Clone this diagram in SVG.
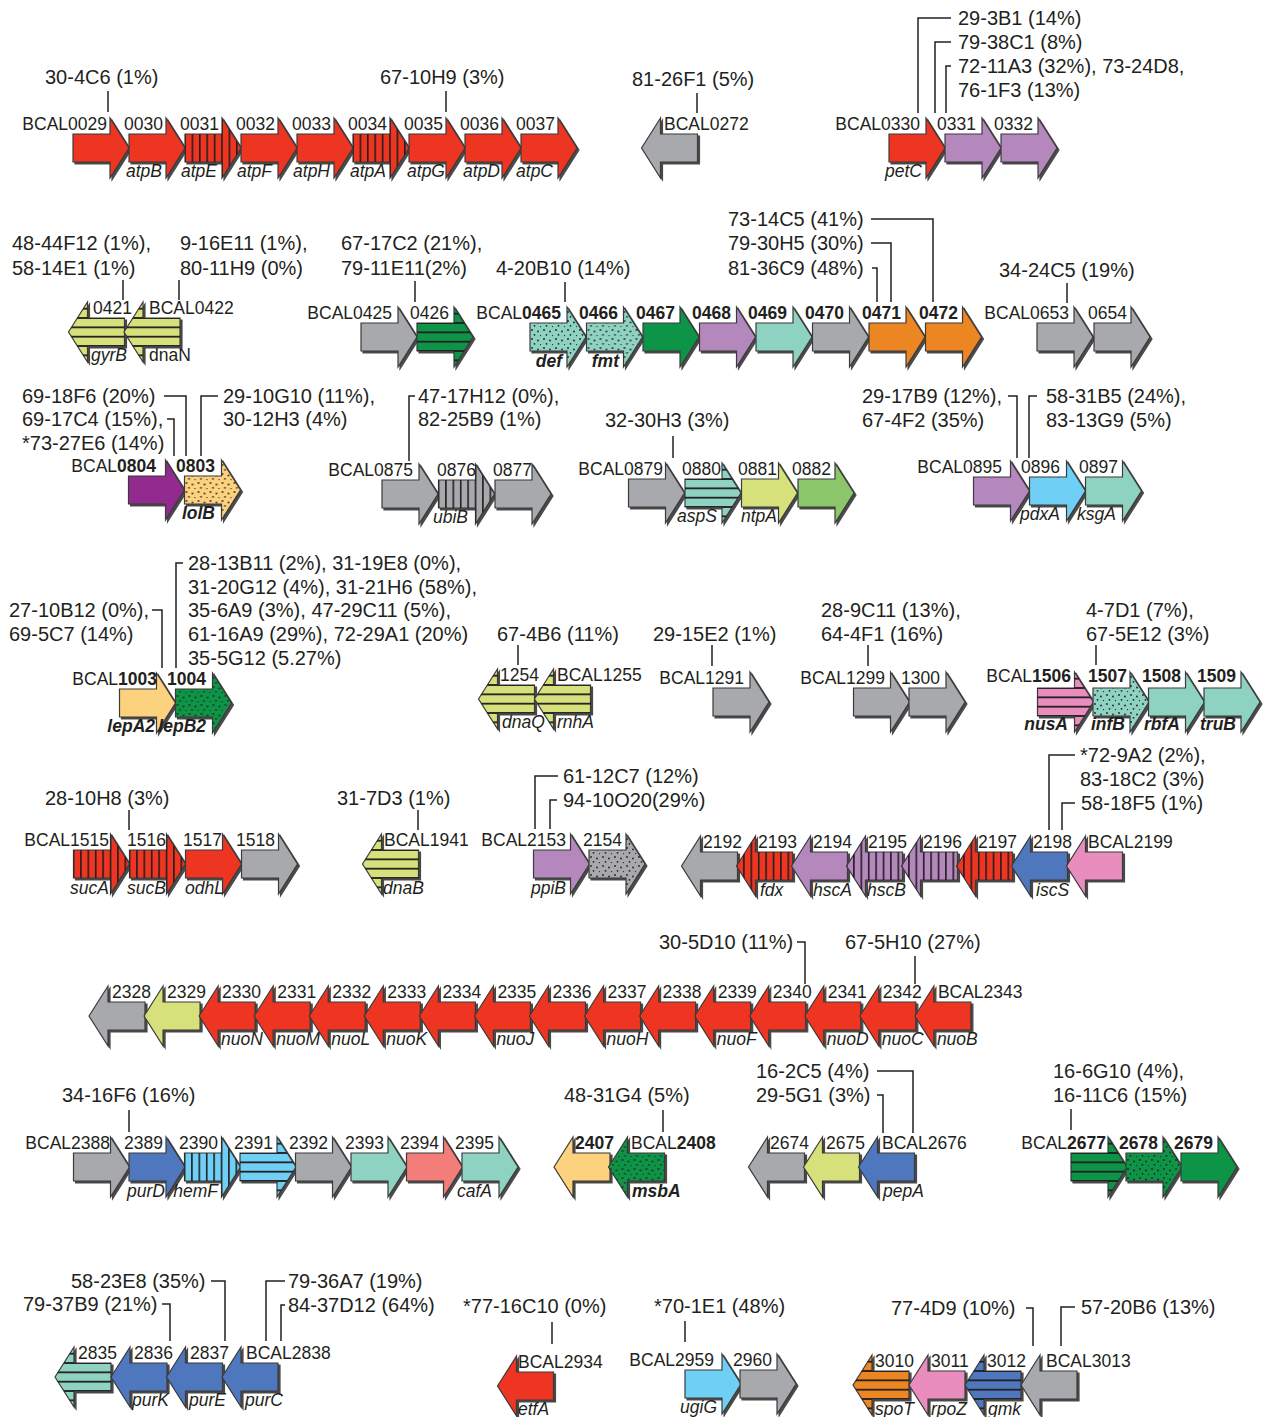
<svg xmlns="http://www.w3.org/2000/svg" xmlns:xlink="http://www.w3.org/1999/xlink" width="1268" height="1417" viewBox="0 0 1268 1417">
<style>
text{font-family:"Liberation Sans",Arial,Helvetica,sans-serif;fill:#231f20}
.a{font-size:20px}
.l{font-size:17.5px}
.gi{font-size:17.5px;font-style:italic}
.gu{font-size:17.5px}
.bd{font-weight:bold}
.e{text-anchor:end}
.ar{stroke:#3a3a3a;stroke-width:1.2;filter:url(#ds)}
.r{fill:#EE3524}.g{fill:#A7A9AC}.p{fill:#B487BD}.y{fill:#D7E17B}.dg{fill:#109447}.t{fill:#8ED2C1}
.o{fill:#EC8623}.dp{fill:#922A8F}.pe{fill:#FDD27E}.lb{fill:#6FCFF5}.lg{fill:#8CC66B}.b{fill:#5077BD}
.pk{fill:#E98DBE}.s{fill:#F37D78}
#connectors line,#connectors polyline{stroke:#231f20;stroke-width:1.5;fill:none}
</style>
<defs>
<filter id="ds" x="-10%" y="-10%" width="130%" height="130%">
<feFlood flood-color="#4a4a4a"/><feComposite in2="SourceAlpha" operator="in"/><feOffset dx="1.6" dy="1.6" result="s"/>
<feMerge><feMergeNode in="s"/><feMergeNode in="SourceGraphic"/></feMerge>
</filter>
<path id="fw" d="M0,-14H37V-30L56,0L37,30V14H0Z"/>
<path id="rv" d="M0,0L19,-30V-14H56V14H19V30Z"/>
<pattern id="vs" patternUnits="userSpaceOnUse" x="-0.8" y="-40" width="7.4" height="80"><rect width="1.6" height="80" fill="#231f20"/></pattern>
<pattern id="hs" patternUnits="userSpaceOnUse" x="-10" y="-14.9" width="80" height="9.333"><rect width="80" height="1.8" fill="#231f20"/></pattern>
<pattern id="dt" patternUnits="userSpaceOnUse" width="12" height="9"><g fill="#231f20"><circle cx="2" cy="2" r="0.9"/><circle cx="8" cy="3.5" r="0.9"/><circle cx="4.5" cy="6.8" r="0.9"/><circle cx="10.5" cy="7.6" r="0.7"/></g></pattern>
</defs>
<rect width="1268" height="1417" fill="#fff"/>

<g id="connectors">
<line x1="108" y1="91" x2="108" y2="112"/>
<line x1="446" y1="91" x2="446" y2="112"/>
<line x1="697" y1="93" x2="697" y2="113"/>
<polyline points="951,18 918,18 918,113"/>
<polyline points="951,42 935,42 935,113"/>
<polyline points="951,66 946,66 946,113"/>
<line x1="123" y1="280" x2="123" y2="300"/>
<line x1="179" y1="280" x2="179" y2="300"/>
<line x1="415" y1="281" x2="415" y2="302"/>
<line x1="565" y1="282" x2="565" y2="302"/>
<polyline points="871,219 933,219 933,302"/>
<polyline points="871,243 891,243 891,302"/>
<polyline points="872,268 877,268 877,302"/>
<line x1="1067" y1="283" x2="1067" y2="303"/>
<polyline points="164,396 186,396 186,456"/>
<polyline points="167,419 174,419 174,456"/>
<polyline points="218,396 201,396 201,456"/>
<polyline points="415,396 409,396 409,461"/>
<line x1="673" y1="436" x2="673" y2="458"/>
<polyline points="1008,396 1017,396 1017,458"/>
<polyline points="1037,396 1029,396 1029,458"/>
<polyline points="152,610 162,610 162,668"/>
<polyline points="183,563 176,563 176,668"/>
<line x1="518" y1="645" x2="518" y2="665"/>
<line x1="712" y1="645" x2="712" y2="666"/>
<line x1="868" y1="645" x2="868" y2="666"/>
<line x1="1096" y1="645" x2="1096" y2="665"/>
<line x1="129" y1="810" x2="129" y2="830"/>
<line x1="418" y1="810" x2="418" y2="830"/>
<polyline points="558,776 535,776 535,829"/>
<polyline points="557,800 550,800 550,829"/>
<polyline points="1075,755 1049,755 1049,830"/>
<polyline points="1075,803 1062,803 1062,830"/>
<polyline points="797,942 805,942 805,984"/>
<line x1="915" y1="956" x2="915" y2="984"/>
<line x1="129" y1="1110" x2="129" y2="1132"/>
<line x1="663" y1="1110" x2="663" y2="1132"/>
<polyline points="877,1071 913,1071 913,1133"/>
<polyline points="877,1095 883,1095 883,1133"/>
<line x1="1071" y1="1109" x2="1071" y2="1130"/>
<polyline points="211,1281 225,1281 225,1341"/>
<polyline points="162,1304 170,1304 170,1341"/>
<polyline points="285,1281 266,1281 266,1341"/>
<polyline points="285,1305 281,1305 281,1341"/>
<line x1="552" y1="1322" x2="552" y2="1344"/>
<line x1="685" y1="1321" x2="685" y2="1342"/>
<polyline points="1026,1308 1033,1308 1033,1346"/>
<polyline points="1075,1307 1061,1307 1061,1346"/>
</g>

<g id="annotations" class="a">
<text class="a" x="45" y="84">30-4C6 (1%)</text>
<text class="a" x="380" y="84">67-10H9 (3%)</text>
<text class="a" x="632" y="86">81-26F1 (5%)</text>
<text class="a" x="958" y="25">29-3B1 (14%)</text>
<text class="a" x="958" y="49">79-38C1 (8%)</text>
<text class="a" x="958" y="73">72-11A3 (32%), 73-24D8,</text>
<text class="a" x="958" y="97">76-1F3 (13%)</text>
<text class="a" x="12" y="250">48-44F12 (1%),</text>
<text class="a" x="12" y="275">58-14E1 (1%)</text>
<text class="a" x="180" y="250">9-16E11 (1%),</text>
<text class="a" x="180" y="275">80-11H9 (0%)</text>
<text class="a" x="341" y="250">67-17C2 (21%),</text>
<text class="a" x="341" y="275">79-11E11(2%)</text>
<text class="a" x="496" y="275">4-20B10 (14%)</text>
<text class="a" x="728" y="226">73-14C5 (41%)</text>
<text class="a" x="728" y="250">79-30H5 (30%)</text>
<text class="a" x="728" y="275">81-36C9 (48%)</text>
<text class="a" x="999" y="277">34-24C5 (19%)</text>
<text class="a" x="22" y="403">69-18F6 (20%)</text>
<text class="a" x="22" y="426">69-17C4 (15%),</text>
<text class="a" x="22" y="450">*73-27E6 (14%)</text>
<text class="a" x="223" y="403">29-10G10 (11%),</text>
<text class="a" x="223" y="426">30-12H3 (4%)</text>
<text class="a" x="418" y="403">47-17H12 (0%),</text>
<text class="a" x="418" y="426">82-25B9 (1%)</text>
<text class="a" x="605" y="427">32-30H3 (3%)</text>
<text class="a" x="862" y="403">29-17B9 (12%),</text>
<text class="a" x="862" y="427">67-4F2 (35%)</text>
<text class="a" x="1046" y="403">58-31B5 (24%),</text>
<text class="a" x="1046" y="427">83-13G9 (5%)</text>
<text class="a" x="9" y="617">27-10B12 (0%),</text>
<text class="a" x="9" y="641">69-5C7 (14%)</text>
<text class="a" x="188" y="570">28-13B11 (2%), 31-19E8 (0%),</text>
<text class="a" x="188" y="594">31-20G12 (4%), 31-21H6 (58%),</text>
<text class="a" x="188" y="617">35-6A9 (3%), 47-29C11 (5%),</text>
<text class="a" x="188" y="641">61-16A9 (29%), 72-29A1 (20%)</text>
<text class="a" x="188" y="665">35-5G12 (5.27%)</text>
<text class="a" x="497" y="641">67-4B6 (11%)</text>
<text class="a" x="653" y="641">29-15E2 (1%)</text>
<text class="a" x="821" y="617">28-9C11 (13%),</text>
<text class="a" x="821" y="641">64-4F1 (16%)</text>
<text class="a" x="1086" y="617">4-7D1 (7%),</text>
<text class="a" x="1086" y="641">67-5E12 (3%)</text>
<text class="a" x="45" y="805">28-10H8 (3%)</text>
<text class="a" x="337" y="805">31-7D3 (1%)</text>
<text class="a" x="563" y="783">61-12C7 (12%)</text>
<text class="a" x="563" y="807">94-10O20(29%)</text>
<text class="a" x="1080" y="762">*72-9A2 (2%),</text>
<text class="a" x="1080" y="786">83-18C2 (3%)</text>
<text class="a" x="1081" y="810">58-18F5 (1%)</text>
<text class="a" x="659" y="949">30-5D10 (11%)</text>
<text class="a" x="845" y="949">67-5H10 (27%)</text>
<text class="a" x="62" y="1102">34-16F6 (16%)</text>
<text class="a" x="564" y="1102">48-31G4 (5%)</text>
<text class="a" x="756" y="1078">16-2C5 (4%)</text>
<text class="a" x="756" y="1102">29-5G1 (3%)</text>
<text class="a" x="1053" y="1078">16-6G10 (4%),</text>
<text class="a" x="1053" y="1102">16-11C6 (15%)</text>
<text class="a" x="71" y="1288">58-23E8 (35%)</text>
<text class="a" x="23" y="1311">79-37B9 (21%)</text>
<text class="a" x="288" y="1288">79-36A7 (19%)</text>
<text class="a" x="288" y="1312">84-37D12 (64%)</text>
<text class="a" x="463" y="1313">*77-16C10 (0%)</text>
<text class="a" x="654" y="1313">*70-1E1 (48%)</text>
<text class="a" x="891" y="1315">77-4D9 (10%)</text>
<text class="a" x="1081" y="1314">57-20B6 (13%)</text>
</g>

<!-- Row 1 -->
<g id="BCAL0029"><use href="#fw" x="73" y="148" class="ar r"/><text class="l e" x="107" y="130">BCAL0029</text></g>
<g id="BCAL0030"><use href="#fw" x="129" y="148" class="ar r"/><text class="l e" x="163" y="130">0030</text><text class="gi e" x="162" y="177">atpB</text></g>
<g id="BCAL0031"><use href="#fw" x="185" y="148" class="ar r"/><use href="#fw" x="185" y="148" fill="url(#vs)"/><text class="l e" x="219" y="130">0031</text><text class="gi e" x="217" y="177">atpE</text></g>
<g id="BCAL0032"><use href="#fw" x="241" y="148" class="ar r"/><text class="l e" x="275" y="130">0032</text><text class="gi e" x="272" y="177">atpF</text></g>
<g id="BCAL0033"><use href="#fw" x="297" y="148" class="ar r"/><text class="l e" x="331" y="130">0033</text><text class="gi e" x="330" y="177">atpH</text></g>
<g id="BCAL0034"><use href="#fw" x="353" y="148" class="ar r"/><use href="#fw" x="353" y="148" fill="url(#vs)"/><text class="l e" x="387" y="130">0034</text><text class="gi e" x="386" y="177">atpA</text></g>
<g id="BCAL0035"><use href="#fw" x="409" y="148" class="ar r"/><text class="l e" x="443" y="130">0035</text><text class="gi e" x="445" y="177">atpG</text></g>
<g id="BCAL0036"><use href="#fw" x="465" y="148" class="ar r"/><text class="l e" x="499" y="130">0036</text><text class="gi e" x="500" y="177">atpD</text></g>
<g id="BCAL0037"><use href="#fw" x="521" y="148" class="ar r"/><text class="l e" x="555" y="130">0037</text><text class="gi e" x="553" y="177">atpC</text></g>
<g id="BCAL0272"><use href="#rv" x="641.5" y="148" class="ar g"/><text class="l" x="664" y="130">BCAL0272</text></g>
<g id="BCAL0330"><use href="#fw" x="889" y="148" class="ar r"/><text class="l e" x="920" y="130">BCAL0330</text><text class="gi e" x="922" y="177">petC</text></g>
<g id="BCAL0331"><use href="#fw" x="945" y="148" class="ar p"/><text class="l e" x="976" y="130">0331</text></g>
<g id="BCAL0332"><use href="#fw" x="1001" y="148" class="ar p"/><text class="l e" x="1033" y="130">0332</text></g>

<!-- Row 2 -->
<g id="BCAL0421"><use href="#rv" x="68.5" y="332" class="ar y"/><use href="#rv" x="68.5" y="332" fill="url(#hs)"/><text class="l" x="93" y="314">0421</text><text class="gi" x="91" y="361">gyrB</text></g>
<g id="BCAL0422"><use href="#rv" x="124" y="332" class="ar y"/><use href="#rv" x="124" y="332" fill="url(#hs)"/><text class="l" x="149" y="314">BCAL0422</text><text class="gu" x="149" y="361">dnaN</text></g>
<g id="BCAL0425"><use href="#fw" x="361" y="337" class="ar g"/><text class="l e" x="392" y="319">BCAL0425</text></g>
<g id="BCAL0426"><use href="#fw" x="417" y="337" class="ar dg"/><use href="#fw" x="417" y="337" fill="url(#hs)"/><text class="l e" x="449" y="319">0426</text></g>
<g id="BCAL0465"><use href="#fw" x="530" y="337" class="ar t"/><use href="#fw" x="530" y="337" fill="url(#dt)"/><text class="l e" x="561" y="319">BCAL<tspan class="bd">0465</tspan></text><text class="gi bd e" x="562" y="367">def</text></g>
<g id="BCAL0466"><use href="#fw" x="586.5" y="337" class="ar t"/><use href="#fw" x="586.5" y="337" fill="url(#dt)"/><text class="l bd e" x="618" y="319">0466</text><text class="gi bd e" x="619" y="367">fmt</text></g>
<g id="BCAL0467"><use href="#fw" x="643" y="337" class="ar dg"/><text class="l bd e" x="675" y="319">0467</text></g>
<g id="BCAL0468"><use href="#fw" x="699.5" y="337" class="ar p"/><text class="l bd e" x="731" y="319">0468</text></g>
<g id="BCAL0469"><use href="#fw" x="756" y="337" class="ar t"/><text class="l bd e" x="787" y="319">0469</text></g>
<g id="BCAL0470"><use href="#fw" x="812.5" y="337" class="ar g"/><text class="l bd e" x="844" y="319">0470</text></g>
<g id="BCAL0471"><use href="#fw" x="869" y="337" class="ar o"/><text class="l bd e" x="901" y="319">0471</text></g>
<g id="BCAL0472"><use href="#fw" x="925.5" y="337" class="ar o"/><text class="l bd e" x="958" y="319">0472</text></g>
<g id="BCAL0653"><use href="#fw" x="1037" y="337" class="ar g"/><text class="l e" x="1069" y="319">BCAL0653</text></g>
<g id="BCAL0654"><use href="#fw" x="1094" y="337" class="ar g"/><text class="l e" x="1127" y="319">0654</text></g>

<!-- Row 3 -->
<g id="BCAL0804"><use href="#fw" x="128.5" y="490" class="ar dp"/><text class="l e" x="156" y="472">BCAL<tspan class="bd">0804</tspan></text></g>
<g id="BCAL0803"><use href="#fw" x="184.5" y="490" class="ar pe"/><use href="#fw" x="184.5" y="490" fill="url(#dt)"/><text class="l bd e" x="215" y="472">0803</text><text class="gi bd e" x="215" y="519">lolB</text></g>
<g id="BCAL0875"><use href="#fw" x="382" y="494" class="ar g"/><text class="l e" x="413" y="476">BCAL0875</text></g>
<g id="BCAL0876"><use href="#fw" x="438.5" y="494" class="ar g"/><use href="#fw" x="438.5" y="494" fill="url(#vs)"/><text class="l e" x="476" y="476">0876</text><text class="gi e" x="468" y="523">ubiB</text></g>
<g id="BCAL0877"><use href="#fw" x="495" y="494" class="ar g"/><text class="l e" x="532" y="476">0877</text></g>
<g id="BCAL0879"><use href="#fw" x="628.5" y="493" class="ar g"/><text class="l e" x="663" y="475">BCAL0879</text></g>
<g id="BCAL0880"><use href="#fw" x="685" y="493" class="ar t"/><use href="#fw" x="685" y="493" fill="url(#hs)"/><text class="l e" x="721" y="475">0880</text><text class="gi e" x="717" y="522">aspS</text></g>
<g id="BCAL0881"><use href="#fw" x="741.5" y="493" class="ar y"/><text class="l e" x="777" y="475">0881</text><text class="gi e" x="777" y="522">ntpA</text></g>
<g id="BCAL0882"><use href="#fw" x="798" y="493" class="ar lg"/><text class="l e" x="831" y="475">0882</text></g>
<g id="BCAL0895"><use href="#fw" x="973.5" y="491" class="ar p"/><text class="l e" x="1002" y="473">BCAL0895</text></g>
<g id="BCAL0896"><use href="#fw" x="1029.5" y="491" class="ar lb"/><text class="l e" x="1060" y="473">0896</text><text class="gi e" x="1060" y="520">pdxA</text></g>
<g id="BCAL0897"><use href="#fw" x="1085.5" y="491" class="ar t"/><text class="l e" x="1118" y="473">0897</text><text class="gi e" x="1116" y="520">ksgA</text></g>

<!-- Row 4 -->
<g id="BCAL1003"><use href="#fw" x="119.5" y="703" class="ar pe"/><text class="l e" x="157" y="685">BCAL<tspan class="bd">1003</tspan></text><text class="gi bd e" x="155" y="732">lepA2</text></g>
<g id="BCAL1004"><use href="#fw" x="175.5" y="703" class="ar dg"/><use href="#fw" x="175.5" y="703" fill="url(#dt)"/><text class="l bd e" x="206" y="685">1004</text><text class="gi bd e" x="206" y="732">lepB2</text></g>
<g id="BCAL1254"><use href="#rv" x="478.5" y="699" class="ar y"/><use href="#rv" x="478.5" y="699" fill="url(#hs)"/><text class="l" x="500" y="681">1254</text><text class="gi" x="502" y="728">dnaQ</text></g>
<g id="BCAL1255"><use href="#rv" x="534.5" y="699" class="ar y"/><use href="#rv" x="534.5" y="699" fill="url(#hs)"/><text class="l" x="557" y="681">BCAL1255</text><text class="gi" x="557" y="728">rnhA</text></g>
<g id="BCAL1291"><use href="#fw" x="713" y="702" class="ar g"/><text class="l e" x="744" y="684">BCAL1291</text></g>
<g id="BCAL1299"><use href="#fw" x="853.5" y="702" class="ar g"/><text class="l e" x="885" y="684">BCAL1299</text></g>
<g id="BCAL1300"><use href="#fw" x="909" y="702" class="ar g"/><text class="l e" x="940" y="684">1300</text></g>
<g id="BCAL1506"><use href="#fw" x="1037.5" y="702" class="ar pk"/><use href="#fw" x="1037.5" y="702" fill="url(#hs)"/><text class="l e" x="1071" y="682">BCAL<tspan class="bd">1506</tspan></text><text class="gi bd e" x="1068" y="730">nusA</text></g>
<g id="BCAL1507"><use href="#fw" x="1093" y="702" class="ar t"/><use href="#fw" x="1093" y="702" fill="url(#dt)"/><text class="l bd e" x="1127" y="682">1507</text><text class="gi bd e" x="1125" y="730">infB</text></g>
<g id="BCAL1508"><use href="#fw" x="1148.5" y="702" class="ar t"/><text class="l bd e" x="1181" y="682">1508</text><text class="gi bd e" x="1180" y="730">rbfA</text></g>
<g id="BCAL1509"><use href="#fw" x="1204" y="702" class="ar t"/><text class="l bd e" x="1236" y="682">1509</text><text class="gi bd e" x="1236" y="730">truB</text></g>

<!-- Row 5 -->
<g id="BCAL1515"><use href="#fw" x="73.5" y="864" class="ar r"/><use href="#fw" x="73.5" y="864" fill="url(#vs)"/><text class="l e" x="109" y="846">BCAL1515</text><text class="gi e" x="109" y="894">sucA</text></g>
<g id="BCAL1516"><use href="#fw" x="129.5" y="864" class="ar r"/><use href="#fw" x="129.5" y="864" fill="url(#vs)"/><text class="l e" x="166" y="846">1516</text><text class="gi e" x="166" y="894">sucB</text></g>
<g id="BCAL1517"><use href="#fw" x="185.5" y="864" class="ar r"/><text class="l e" x="222" y="846">1517</text><text class="gi e" x="224" y="894">odhL</text></g>
<g id="BCAL1518"><use href="#fw" x="241.5" y="864" class="ar g"/><text class="l e" x="275" y="846">1518</text></g>
<g id="BCAL1941"><use href="#rv" x="362.5" y="864" class="ar y"/><use href="#rv" x="362.5" y="864" fill="url(#hs)"/><text class="l" x="384" y="846">BCAL1941</text><text class="gi" x="383" y="894">dnaB</text></g>
<g id="BCAL2153"><use href="#fw" x="533.5" y="864" class="ar p"/><text class="l e" x="566" y="846">BCAL2153</text><text class="gi e" x="566" y="894">ppiB</text></g>
<g id="BCAL2154"><use href="#fw" x="589" y="864" class="ar g"/><use href="#fw" x="589" y="864" fill="url(#dt)"/><text class="l e" x="622" y="846">2154</text></g>
<g id="BCAL2192"><use href="#rv" x="681.5" y="866" class="ar g"/><text class="l" x="703" y="848">2192</text></g>
<g id="BCAL2193"><use href="#rv" x="736.5" y="866" class="ar r"/><use href="#rv" x="736.5" y="866" fill="url(#vs)"/><text class="l" x="758" y="848">2193</text><text class="gi" x="760" y="896">fdx</text></g>
<g id="BCAL2194"><use href="#rv" x="791.5" y="866" class="ar p"/><text class="l" x="813" y="848">2194</text><text class="gi" x="813" y="896">hscA</text></g>
<g id="BCAL2195"><use href="#rv" x="846.5" y="866" class="ar p"/><use href="#rv" x="846.5" y="866" fill="url(#vs)"/><text class="l" x="868" y="848">2195</text><text class="gi" x="867" y="896">hscB</text></g>
<g id="BCAL2196"><use href="#rv" x="901.5" y="866" class="ar p"/><use href="#rv" x="901.5" y="866" fill="url(#vs)"/><text class="l" x="923" y="848">2196</text></g>
<g id="BCAL2197"><use href="#rv" x="956.5" y="866" class="ar r"/><use href="#rv" x="956.5" y="866" fill="url(#vs)"/><text class="l" x="978" y="848">2197</text></g>
<g id="BCAL2198"><use href="#rv" x="1011.5" y="866" class="ar b"/><text class="l" x="1033" y="848">2198</text><text class="gi" x="1036" y="896">iscS</text></g>
<g id="BCAL2199"><use href="#rv" x="1066.5" y="866" class="ar pk"/><text class="l" x="1088" y="848">BCAL2199</text></g>

<!-- Row 6 -->
<g id="BCAL2328"><use href="#rv" x="89" y="1016" class="ar g"/><text class="l" x="112" y="998">2328</text></g>
<g id="BCAL2329"><use href="#rv" x="144.06" y="1016" class="ar y"/><text class="l" x="167.1" y="998">2329</text></g>
<g id="BCAL2330"><use href="#rv" x="199.12" y="1016" class="ar r"/><text class="l" x="222.1" y="998">2330</text><text class="gi" x="221.1" y="1045">nuoN</text></g>
<g id="BCAL2331"><use href="#rv" x="254.18" y="1016" class="ar r"/><text class="l" x="277.2" y="998">2331</text><text class="gi" x="276.2" y="1045">nuoM</text></g>
<g id="BCAL2332"><use href="#rv" x="309.24" y="1016" class="ar r"/><text class="l" x="332.2" y="998">2332</text><text class="gi" x="331.2" y="1045">nuoL</text></g>
<g id="BCAL2333"><use href="#rv" x="364.3" y="1016" class="ar r"/><text class="l" x="387.3" y="998">2333</text><text class="gi" x="386.3" y="1045">nuoK</text></g>
<g id="BCAL2334"><use href="#rv" x="419.36" y="1016" class="ar r"/><text class="l" x="442.4" y="998">2334</text></g>
<g id="BCAL2335"><use href="#rv" x="474.42" y="1016" class="ar r"/><text class="l" x="497.4" y="998">2335</text><text class="gi" x="496.4" y="1045">nuoJ</text></g>
<g id="BCAL2336"><use href="#rv" x="529.48" y="1016" class="ar r"/><text class="l" x="552.5" y="998">2336</text></g>
<g id="BCAL2337"><use href="#rv" x="584.54" y="1016" class="ar r"/><text class="l" x="607.5" y="998">2337</text><text class="gi" x="606.5" y="1045">nuoH</text></g>
<g id="BCAL2338"><use href="#rv" x="639.6" y="1016" class="ar r"/><text class="l" x="662.6" y="998">2338</text></g>
<g id="BCAL2339"><use href="#rv" x="694.66" y="1016" class="ar r"/><text class="l" x="717.7" y="998">2339</text><text class="gi" x="716.7" y="1045">nuoF</text></g>
<g id="BCAL2340"><use href="#rv" x="749.72" y="1016" class="ar r"/><text class="l" x="772.7" y="998">2340</text></g>
<g id="BCAL2341"><use href="#rv" x="804.78" y="1016" class="ar r"/><text class="l" x="827.8" y="998">2341</text><text class="gi" x="826.8" y="1045">nuoD</text></g>
<g id="BCAL2342"><use href="#rv" x="859.84" y="1016" class="ar r"/><text class="l" x="882.8" y="998">2342</text><text class="gi" x="881.8" y="1045">nuoC</text></g>
<g id="BCAL2343"><use href="#rv" x="914.9" y="1016" class="ar r"/><text class="l" x="937.9" y="998">BCAL2343</text><text class="gi" x="936.9" y="1045">nuoB</text></g>

<!-- Row 7 -->
<g id="BCAL2388"><use href="#fw" x="73.5" y="1167" class="ar g"/><text class="l e" x="110" y="1149">BCAL2388</text></g>
<g id="BCAL2389"><use href="#fw" x="129" y="1167" class="ar b"/><text class="l e" x="163" y="1149">2389</text><text class="gi e" x="165" y="1197">purD</text></g>
<g id="BCAL2390"><use href="#fw" x="184.5" y="1167" class="ar lb"/><use href="#fw" x="184.5" y="1167" fill="url(#vs)"/><text class="l e" x="218" y="1149">2390</text><text class="gi e" x="218" y="1197">hemF</text></g>
<g id="BCAL2391"><use href="#fw" x="240" y="1167" class="ar lb"/><use href="#fw" x="240" y="1167" fill="url(#hs)"/><text class="l e" x="273" y="1149">2391</text></g>
<g id="BCAL2392"><use href="#fw" x="295.5" y="1167" class="ar g"/><text class="l e" x="328" y="1149">2392</text></g>
<g id="BCAL2393"><use href="#fw" x="351" y="1167" class="ar t"/><text class="l e" x="384" y="1149">2393</text></g>
<g id="BCAL2394"><use href="#fw" x="406.5" y="1167" class="ar s"/><text class="l e" x="439" y="1149">2394</text></g>
<g id="BCAL2395"><use href="#fw" x="462" y="1167" class="ar t"/><text class="l e" x="494" y="1149">2395</text><text class="gi e" x="492" y="1197">cafA</text></g>
<g id="BCAL2407"><use href="#rv" x="554" y="1167" class="ar pe"/><text class="l bd" x="575" y="1149">2407</text></g>
<g id="BCAL2408"><use href="#rv" x="608.5" y="1167" class="ar dg"/><use href="#rv" x="608.5" y="1167" fill="url(#dt)"/><text class="l" x="631" y="1149">BCAL<tspan class="bd">2408</tspan></text><text class="gi bd" x="632" y="1197">msbA</text></g>
<g id="BCAL2674"><use href="#rv" x="748.5" y="1167" class="ar g"/><text class="l" x="770" y="1149">2674</text></g>
<g id="BCAL2675"><use href="#rv" x="803.5" y="1167" class="ar y"/><text class="l" x="826" y="1149">2675</text></g>
<g id="BCAL2676"><use href="#rv" x="858.5" y="1167" class="ar b"/><text class="l" x="882" y="1149">BCAL2676</text><text class="gi" x="883" y="1197">pepA</text></g>
<g id="BCAL2677"><use href="#fw" x="1071" y="1167" class="ar dg"/><use href="#fw" x="1071" y="1167" fill="url(#hs)"/><text class="l e" x="1106" y="1149">BCAL<tspan class="bd">2677</tspan></text></g>
<g id="BCAL2678"><use href="#fw" x="1126" y="1167" class="ar dg"/><use href="#fw" x="1126" y="1167" fill="url(#dt)"/><text class="l bd e" x="1158" y="1149">2678</text></g>
<g id="BCAL2679"><use href="#fw" x="1181" y="1167" class="ar dg"/><text class="l bd e" x="1213" y="1149">2679</text></g>

<!-- Row 8 -->
<g id="BCAL2835"><use href="#rv" x="55" y="1377" class="ar t"/><use href="#rv" x="55" y="1377" fill="url(#hs)"/><text class="l" x="78" y="1359">2835</text></g>
<g id="BCAL2836"><use href="#rv" x="111" y="1377" class="ar b"/><text class="l" x="134" y="1359">2836</text><text class="gi" x="132" y="1406">purK</text></g>
<g id="BCAL2837"><use href="#rv" x="166.5" y="1377" class="ar b"/><text class="l" x="190" y="1359">2837</text><text class="gi" x="189" y="1406">purE</text></g>
<g id="BCAL2838"><use href="#rv" x="222" y="1377" class="ar b"/><text class="l" x="246" y="1359">BCAL2838</text><text class="gi" x="245" y="1406">purC</text></g>
<g id="BCAL2934"><use href="#rv" x="497.5" y="1386" class="ar r"/><text class="l" x="518" y="1368">BCAL2934</text><text class="gi" x="518" y="1415">etfA</text></g>
<g id="BCAL2959"><use href="#fw" x="685" y="1384" class="ar lb"/><text class="l e" x="714" y="1366">BCAL2959</text><text class="gi e" x="717" y="1413">ugiG</text></g>
<g id="BCAL2960"><use href="#fw" x="740" y="1384" class="ar g"/><text class="l e" x="772" y="1366">2960</text></g>
<g id="BCAL3010"><use href="#rv" x="853" y="1385" class="ar o"/><use href="#rv" x="853" y="1385" fill="url(#hs)"/><text class="l" x="875" y="1367">3010</text><text class="gi" x="875" y="1415">spoT</text></g>
<g id="BCAL3011"><use href="#rv" x="909" y="1385" class="ar pk"/><text class="l" x="931" y="1367">3011</text><text class="gi" x="931" y="1415">rpoZ</text></g>
<g id="BCAL3012"><use href="#rv" x="965" y="1385" class="ar b"/><use href="#rv" x="965" y="1385" fill="url(#hs)"/><text class="l" x="987" y="1367">3012</text><text class="gi" x="988" y="1415">gmk</text></g>
<g id="BCAL3013"><use href="#rv" x="1021" y="1385" class="ar g"/><text class="l" x="1046" y="1367">BCAL3013</text></g>
</svg>
